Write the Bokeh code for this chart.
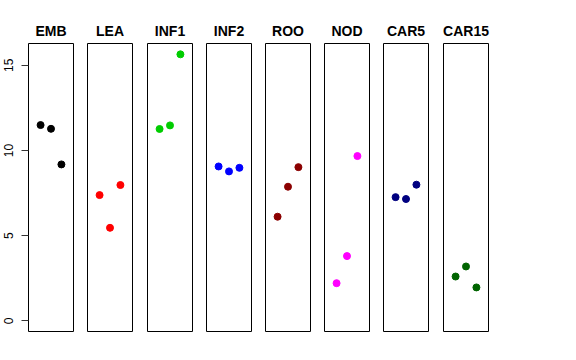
from bokeh.plotting import figure
from bokeh.layouts import row
from bokeh.models import Range1d, FixedTicker
from bokeh.embed import file_html
from bokeh.resources import INLINE

categories = ["EMB", "LEA", "INF1", "INF2", "ROO", "NOD", "CAR5", "CAR15"]
emb = [11.49, 11.27, 9.18]
lea = [7.38, 5.46, 7.97]
inf1 = [11.26, 11.47, 15.64]
inf2 = [9.06, 8.77, 8.98]
roo = [6.11, 7.87, 9.02]
nod = [2.21, 3.80, 9.67]
car5 = [7.26, 7.15, 7.99]
car15 = [2.60, 3.19, 1.96]
replicates = [1, 2, 3]
colors = ["black", "red", "#00CD00", "blue", "#8B0000", "magenta", "#000080", "#006400"]
y_ticks = [0, 5, 10, 15]

series = [emb, lea, inf1, inf2, roo, nod, car5, car15]
right_borders = [7, 8, 7, 7, 7, 7, 8, 7]

figs = []
for i, (cat, vals, col) in enumerate(zip(categories, series, colors)):
    first = i == 0
    p = figure(frame_width=45, frame_height=288,
               x_range=Range1d(-0.16, 4.16), y_range=Range1d(-0.626, 16.276),
               output_backend="svg", toolbar_location=None,
               min_border_left=28 if first else 7, min_border_right=right_borders[i],
               min_border_top=43, min_border_bottom=10, title=cat)
    p.title.align = "center"
    p.title.text_font = "Liberation Sans"
    p.title.text_font_size = "14px"
    p.title.text_font_style = "bold"
    p.title.text_color = "black"
    p.title.standoff = 10
    p.xaxis.visible = False
    p.grid.visible = False
    p.outline_line_color = "black"
    p.outline_line_alpha = 1.0
    p.outline_line_width = 1
    p.background_fill_color = "white"
    p.border_fill_color = "white"
    if first:
        ax = p.yaxis[0]
        ax.ticker = FixedTicker(ticks=y_ticks)
        ax.major_label_orientation = "vertical"
        ax.major_tick_out = 7
        ax.major_tick_in = 0
        ax.minor_tick_out = 0
        ax.minor_tick_in = 0
        ax.axis_line_color = None
        ax.major_tick_line_color = "#333333"
        ax.major_label_text_font = "Liberation Sans"
        ax.major_label_text_font_size = "12px"
        ax.major_label_text_color = "black"
        ax.major_label_standoff = 8
    else:
        p.yaxis.visible = False
    p.scatter(x=replicates, y=vals, size=7, color=col)
    figs.append(p)

layout = row(*figs, spacing=0)
open("out.html", "w").write(file_html(layout, INLINE))
